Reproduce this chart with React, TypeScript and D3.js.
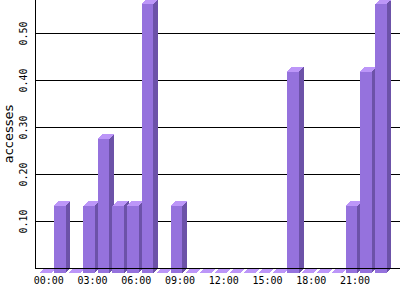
import React from "react";
import * as d3 from "d3";

const hours: string[] = Array.from({ length: 24 }, (_, i) => String(i).padStart(2, "0") + ":00");
const accesses: number[] = [0, 1 / 7, 0, 1 / 7, 2 / 7, 1 / 7, 1 / 7, 4 / 7, 0, 1 / 7, 0, 0, 0, 0, 0, 0, 0, 3 / 7, 0, 0, 0, 1 / 7, 3 / 7, 4 / 7];
const yTicks: number[] = [0.1, 0.2, 0.3, 0.4, 0.5];
const xTickLabels: string[] = ["00:00", "03:00", "06:00", "09:00", "12:00", "15:00", "18:00", "21:00"];
const yLabel = "accesses";

const W = 400;
const H = 300;
const LEFT = 35.5;
const DEPTH = 4.5;
const FRONT = "#9572DD";
const SIDE = "#6C52A8";
const TOP = "#BC96F8";

export default function App() {
  const x = d3.scaleBand<string>().domain(hours).range([36.5, 389.5]).padding(0.2);
  const y = d3.scaleLinear().domain([0, 0.5]).range([268.5, 33.5]);
  const base = y(0);
  const bw = x.bandwidth();

  return (
    <svg width={W} height={H} style={{ position: "absolute", left: 0, top: 0, background: "#fff" }}>
      {yTicks.map((t) => (
        <line key={"g" + t} x1={LEFT} x2={W} y1={y(t)} y2={y(t)} stroke="#000" strokeWidth={1} />
      ))}
      {hours.map((h, i) => {
        const v = accesses[i];
        const x0 = x(h) as number;
        const x1 = x0 + bw;
        const backTop = y(v);
        const fTop = backTop + DEPTH;
        const fBot = base + DEPTH;
        const front = `M${x0},${fTop}L${x1},${fTop}L${x1},${fBot}L${x0},${fBot}Z`;
        const side = `M${x1},${fTop}L${x1 + DEPTH},${backTop}L${x1 + DEPTH},${base}L${x1},${fBot}Z`;
        const top = `M${x0},${fTop}L${x0 + DEPTH},${backTop}L${x1 + DEPTH},${backTop}L${x1},${fTop}Z`;
        return (
          <g key={h} shapeRendering="crispEdges">
            {v > 0 && <path d={front} fill={FRONT} />}
            {v > 0 && <path d={side} fill={SIDE} />}
            <path d={top} fill={TOP} />
          </g>
        );
      })}
      <line x1={LEFT} x2={LEFT} y1={0} y2={269} stroke="#000" strokeWidth={1} />
      <line x1={LEFT} x2={W} y1={base} y2={base} stroke="#000" strokeWidth={1} />
      {yTicks.map((t) => (
        <text
          key={"t" + t}
          transform={`translate(27,${y(t)}) rotate(-90)`}
          textAnchor="middle"
          fontFamily="DejaVu Sans Mono"
          fontSize={10}
          fill="#000"
        >
          {d3.format(".2f")(t)}
        </text>
      ))}
      {xTickLabels.map((lab) => (
        <text
          key={lab}
          x={(x(lab) as number) + bw / 2 + 3.5}
          y={284}
          textAnchor="middle"
          fontFamily="DejaVu Sans Mono"
          fontSize={10}
          fill="#000"
        >
          {lab}
        </text>
      ))}
      <text
        transform="translate(13,134) rotate(-90)"
        textAnchor="middle"
        fontFamily="DejaVu Sans"
        fontSize={13}
        fill="#000"
      >
        {yLabel}
      </text>
    </svg>
  );
}
